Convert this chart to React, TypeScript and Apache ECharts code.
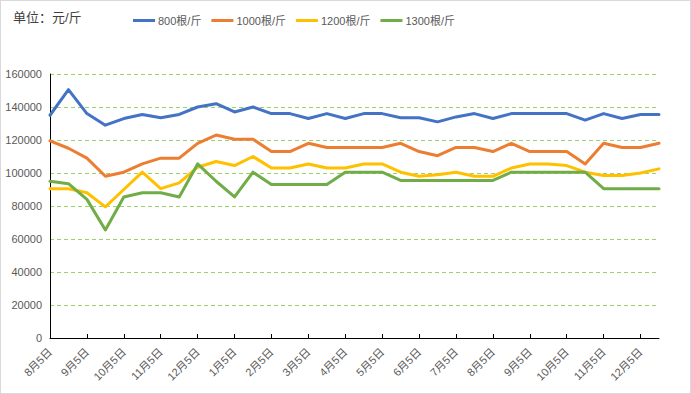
import React, { useEffect, useRef } from "react";
import * as echarts from "echarts";

const categories: string[] = [
  "8月5日", "8月20日", "9月5日", "9月20日", "10月5日", "10月20日", "11月5日", "11月20日",
  "12月5日", "12月20日", "1月5日", "1月20日", "2月5日", "2月20日", "3月5日", "3月20日",
  "4月5日", "4月20日", "5月5日", "5月20日", "6月5日", "6月20日", "7月5日", "7月20日",
  "8月5日", "8月20日", "9月5日", "9月20日", "10月5日", "10月20日", "11月5日", "11月20日",
  "12月5日", "12月20日",
];

const seriesNames = ["800根/斤", "1000根/斤", "1200根/斤", "1300根/斤"];
const seriesColors = ["#4472C4", "#ED7D31", "#FFC000", "#70AD47"];

const s800: number[] = [
  135000, 150500, 136000, 129000, 133000, 135500, 133500, 135500, 140000, 142000,
  137000, 140000, 136000, 136000, 133000, 136000, 133000, 136000, 136000, 133500,
  133500, 131000, 134000, 136000, 133000, 136000, 136000, 136000, 136000, 132000,
  136000, 133000, 135500, 135500,
];
const s1000: number[] = [
  119500, 115000, 109000, 98000, 100500, 105500, 109000, 109000, 118000, 123000,
  120500, 120500, 113000, 113000, 118000, 115500, 115500, 115500, 115500, 118000,
  113000, 110500, 115500, 115500, 113000, 118000, 113000, 113000, 113000, 105500,
  118000, 115500, 115500, 118000,
];
const s1200: number[] = [
  90500, 90500, 88000, 79500, 90000, 100500, 90500, 94000, 103500, 107000,
  104500, 110000, 103000, 103000, 105500, 103000, 103000, 105500, 105500, 100500,
  98000, 99000, 100500, 98000, 98000, 103000, 105500, 105500, 104500, 100500,
  98500, 98500, 100000, 102500,
];
const s1300: number[] = [
  95000, 93500, 84000, 65500, 85500, 88000, 88000, 85500, 105500, 95000,
  85500, 100500, 93000, 93000, 93000, 93000, 100500, 100500, 100500, 95500,
  95500, 95500, 95500, 95500, 95500, 100500, 100500, 100500, 100500, 100500,
  90500, 90500, 90500, 90500,
];
const allSeries = [s800, s1000, s1200, s1300];

const yMin = 0;
const yMax = 160000;
const yInterval = 20000;

export default function App() {
  const ref = useRef<HTMLDivElement>(null);
  useEffect(() => {
    document.body.style.margin = "0";
    if (!ref.current) return;
    const chart = echarts.init(ref.current, null, { renderer: "svg" });
    const font = "'Liberation Sans', 'Noto Sans CJK SC', sans-serif";
    chart.setOption({
      animation: false,
      backgroundColor: "#ffffff",
      textStyle: { fontFamily: font },
      title: {
        text: "单位：元/斤",
        left: 7,
        top: 5,
        textStyle: { fontSize: 13, fontWeight: "normal", color: "#404040", fontFamily: font },
      },
      legend: {
        top: 9,
        left: 127,
        icon: "rect",
        itemWidth: 22,
        itemHeight: 3,
        itemGap: 10,
        textStyle: { fontSize: 11, color: "#595959", fontFamily: font, padding: [0, 0, 0, -2] },
        data: seriesNames,
      },
      grid: { left: 49, right: 31, top: 73, bottom: 55, containLabel: false },
      xAxis: {
        type: "category",
        data: categories,
        boundaryGap: false,
        axisLine: { lineStyle: { color: "#000000", width: 1 } },
        axisTick: { show: true, inside: true, length: 4, interval: 1, lineStyle: { color: "#000000" } },
        axisLabel: { interval: 1, rotate: 45, fontSize: 11, color: "#595959", margin: 12, fontFamily: font },
        splitLine: { show: false },
      },
      yAxis: {
        type: "value",
        min: yMin,
        max: yMax,
        interval: yInterval,
        axisLine: { show: true, lineStyle: { color: "#000000", width: 1 } },
        axisTick: { show: false },
        axisLabel: {
          fontSize: 11,
          color: "#595959",
          margin: 8,
          fontFamily: font,
          formatter: (v: number) => String(v),
        },
        splitLine: { show: true, lineStyle: { color: "#9BD36A", type: [4, 3], width: 1 } },
      },
      series: allSeries.map((d, i) => ({
        name: seriesNames[i],
        type: "line",
        data: d,
        showSymbol: false,
        symbol: "none",
        color: seriesColors[i],
        lineStyle: { width: 3, color: seriesColors[i], cap: "round", join: "round" },
        itemStyle: { color: seriesColors[i] },
      })),
    });
    return () => chart.dispose();
  }, []);
  return (
    <div
      ref={ref}
      style={{ width: 691, height: 394, boxSizing: "border-box", border: "1px solid #d9d9d9" }}
    />
  );
}
